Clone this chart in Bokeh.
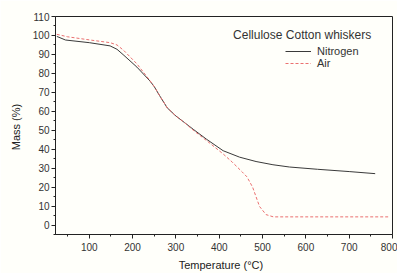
from bokeh.plotting import figure
from bokeh.models import Legend, LegendItem, Label, FixedTicker, Range1d
from bokeh.embed import file_html
from bokeh.resources import INLINE

# Data
temp_nitrogen = [25, 45, 100, 148, 164, 180, 210, 240, 250, 263, 280, 300, 320, 340, 371, 409, 447, 485, 524, 562, 627, 700, 760]
mass_nitrogen = [99.5, 97.6, 96.2, 94.5, 92.7, 89.5, 83.3, 76.0, 73.0, 68.0, 61.8, 57.5, 54.0, 50.5, 45.2, 39.2, 35.8, 33.5, 31.8, 30.6, 29.4, 28.2, 27.1]

temp_air = [25, 50, 102, 148, 164, 180, 210, 240, 250, 263, 280, 300, 320, 340, 371, 409, 430, 453, 464, 477, 493, 508, 525, 600, 700, 790]
mass_air = [100.6, 99.3, 97.6, 96.2, 95.0, 92.0, 85.0, 76.2, 73.0, 68.0, 61.8, 57.5, 54.0, 50.0, 44.5, 37.5, 33.2, 28.0, 25.4, 20.0, 9.8, 5.5, 4.3, 4.3, 4.3, 4.3]

x_ticks = [100, 200, 300, 400, 500, 600, 700, 800]
x_minor = [50, 150, 250, 350, 450, 550, 650, 750]
y_ticks = [0, 10, 20, 30, 40, 50, 60, 70, 80, 90, 100, 110]
y_minor = [-5, 5, 15, 25, 35, 45, 55, 65, 75, 85, 95, 105]

legend_title = "Cellulose Cotton whiskers"
series_names = ["Nitrogen", "Air"]

FONT = "Liberation Sans"
BG = "#fffffa"

p = figure(width=397, height=273, output_backend="svg", toolbar_location=None,
           x_range=Range1d(22, 800), y_range=Range1d(-5, 110),
           min_border_left=55, min_border_right=5, min_border_top=16, min_border_bottom=35,
           background_fill_color=BG, border_fill_color=BG)

p.xgrid.visible = False
p.ygrid.visible = False
p.outline_line_color = "#222222"
p.outline_line_width = 1

p.xaxis.ticker = FixedTicker(ticks=x_ticks, minor_ticks=x_minor)
p.yaxis.ticker = FixedTicker(ticks=y_ticks, minor_ticks=y_minor)

for ax in (p.xaxis[0], p.yaxis[0]):
    ax.axis_line_color = "#222222"
    ax.major_tick_line_color = "#222222"
    ax.minor_tick_line_color = "#222222"
    ax.major_tick_out = 4
    ax.major_tick_in = 0
    ax.minor_tick_out = 2
    ax.minor_tick_in = 0
    ax.major_label_text_font = FONT
    ax.major_label_text_font_size = "10px"
    ax.major_label_text_color = "#333333"
    ax.axis_label_text_font = FONT
    ax.axis_label_text_font_size = "11px"
    ax.axis_label_text_font_style = "normal"
    ax.axis_label_text_color = "#222222"

p.xaxis.axis_label = "Temperature   (°C)"
p.yaxis.axis_label = "Mass  (%)"
p.xaxis.major_label_standoff = 4
p.xaxis.axis_label_standoff = 5
p.yaxis.major_label_standoff = 2
p.yaxis.axis_label_standoff = 8

r_n = p.line(temp_nitrogen, mass_nitrogen, line_color="#3a3a3a", line_width=1)
r_a = p.line(temp_air, mass_air, line_color="#ea7070", line_width=1, line_dash="3 2")

title = Label(x=432, y=100, text=legend_title, text_font=FONT, text_font_size="12px",
              text_color="#333333", text_baseline="middle", text_align="left")
p.add_layout(title)

legend = Legend(items=[LegendItem(label=series_names[0], renderers=[r_n]),
                       LegendItem(label=series_names[1], renderers=[r_a])],
                location=(228, 163), orientation="vertical",
                background_fill_alpha=0, border_line_alpha=0,
                padding=2, spacing=0, margin=0,
                glyph_width=26, glyph_height=12, label_height=12,
                label_standoff=6, label_text_font=FONT, label_text_font_size="11px",
                label_text_color="#333333")
p.add_layout(legend)

open("out.html", "w").write(file_html(p, INLINE))
